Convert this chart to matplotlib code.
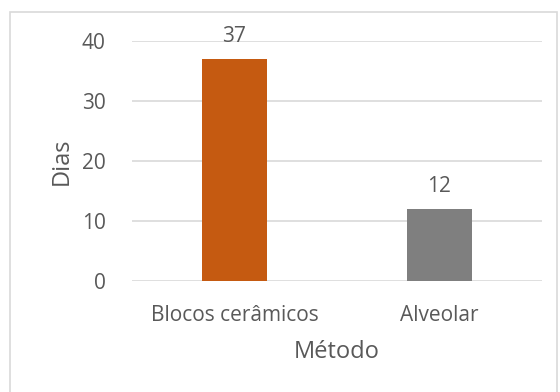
import matplotlib
matplotlib.use("Agg")
import matplotlib.pyplot as plt
from matplotlib.patches import Rectangle

categories = ["Blocos cerâmicos", "Alveolar"]
values = [37, 12]
colors = ["#C55A11", "#7F7F7F"]
yticks = [0, 10, 20, 30, 40]

plt.rcParams['font.family'] = ['Open Sans', 'DejaVu Sans']
txt = "#595959"

fig = plt.figure(figsize=(5.6, 3.92), dpi=100)
ax = fig.add_axes([132/560, 1-281/392, 410/560, 240/392])

x = range(len(categories))
bars = ax.bar(x, values, width=0.317, color=colors, zorder=3)
for xi, v in zip(x, values):
    ax.annotate(str(v), (xi, v), xytext=(0, 8.5), textcoords='offset points',
                ha='center', va='bottom', fontsize=15, color=txt, annotation_clip=False)

ax.set_xlim(-0.5, 1.5)
ax.set_ylim(0, 40)
ax.set_yticks(yticks)
ax.set_xticks(list(x))
ax.set_xticklabels(categories)
ax.tick_params(axis='both', length=0, labelsize=15, labelcolor=txt)
ax.tick_params(axis='x', pad=17.5)
ax.tick_params(axis='y', pad=19)
ax.grid(axis='y', color='#D9D9D9', linewidth=1.2, zorder=0)
for s in ax.spines.values():
    s.set_visible(False)
ax.set_xlabel("Método", fontsize=17, color=txt, labelpad=10)
ax.set_ylabel("Dias", fontsize=17, color=txt, labelpad=6)

fig.patches.append(Rectangle((10/560, -0.01), 547/560, 1-12/392+0.01, transform=fig.transFigure,
                             fill=False, edgecolor='#D9D9D9', linewidth=1.2))

fig.savefig("out.png", dpi=100)
